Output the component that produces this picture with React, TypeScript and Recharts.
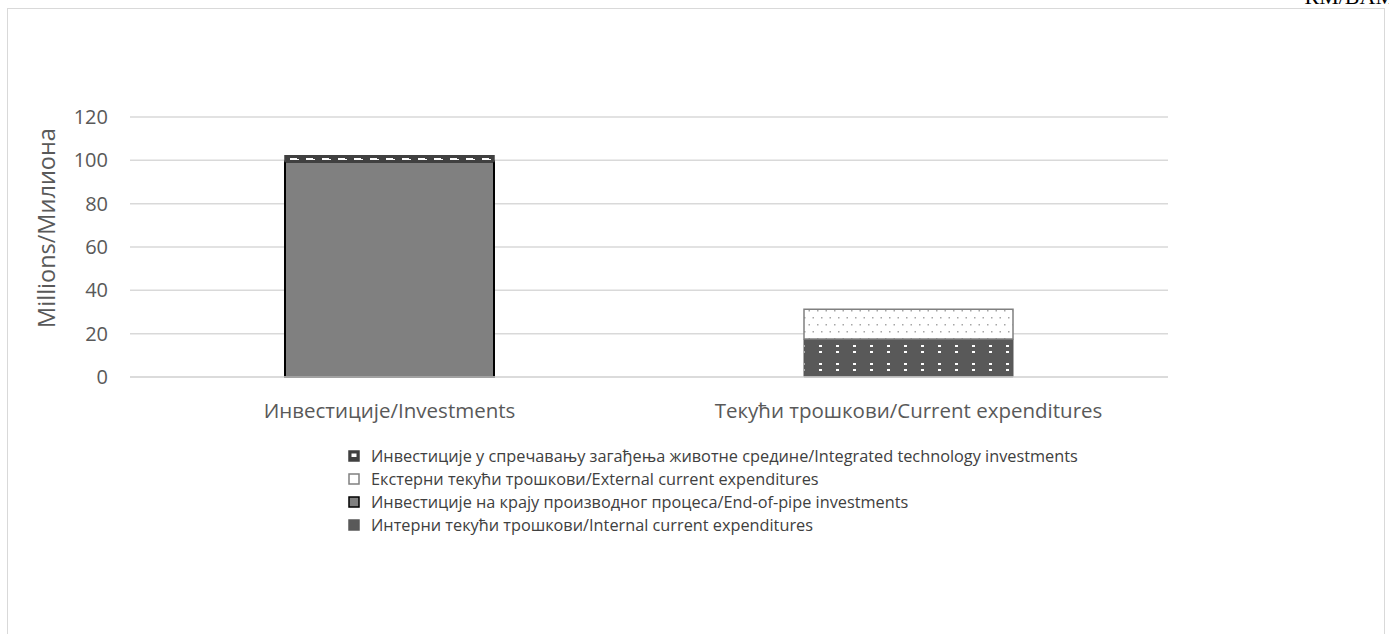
import React from "react";
import { BarChart, Bar, XAxis, YAxis, CartesianGrid, Label } from "recharts";

const categories = ["Инвестиције/Investments", "Текући трошкови/Current expenditures"];
const internalCurrent = [0, 17.5];
const endOfPipe = [99.5, 0];
const externalCurrent = [0, 13.8];
const integratedTech = [2.6, 0];
const yTicks = [0, 20, 40, 60, 80, 100, 120];

const seriesLabels = {
  integrated: "Инвестиције у спречавању загађења животне средине/Integrated technology investments",
  external: "Екстерни текући трошкови/External current expenditures",
  endOfPipe: "Инвестиције на крају производног процеса/End-of-pipe investments",
  internal: "Интерни текући трошкови/Internal current expenditures",
};

const data = categories.map((c, i) => ({
  name: c,
  internal: internalCurrent[i],
  endOfPipe: endOfPipe[i],
  external: externalCurrent[i],
  integrated: integratedTech[i],
}));

const FONT = "'Open Sans', 'Noto Sans', sans-serif";

const Patterns = () => (
  <svg width={0} height={0} style={{ position: "absolute" }}>
    <defs>
      <pattern id="pHatch" width={16} height={6} patternUnits="userSpaceOnUse">
        <rect width={16} height={6} fill="#404040" />
        <rect x={2} y={2} width={7} height={2} fill="#ffffff" />
        <rect x={9} y={3} width={2} height={1} fill="#ffffff" />
      </pattern>
      <pattern id="pDotsLight" width={17} height={14} patternUnits="userSpaceOnUse">
        <rect width={17} height={14} fill="#ffffff" />
        <rect x={1} y={2} width={1.5} height={1.5} fill="#a6a6a6" />
        <rect x={9.5} y={2} width={1.5} height={1.5} fill="#a6a6a6" />
        <rect x={5} y={9} width={1.5} height={1.5} fill="#a6a6a6" />
        <rect x={13.5} y={9} width={1.5} height={1.5} fill="#a6a6a6" />
      </pattern>
      <pattern id="pDotsDark" width={17} height={18} patternUnits="userSpaceOnUse">
        <rect width={17} height={18} fill="#595959" />
        <rect x={3} y={3} width={3} height={2} fill="#ffffff" />
        <rect x={3} y={9} width={3} height={2} fill="#ffffff" />
      </pattern>
    </defs>
  </svg>
);

const legendItems = [
  { key: "integrated", fill: "#404040", stroke: "#404040", inner: true },
  { key: "external", fill: "#ffffff", stroke: "#808080", inner: false },
  { key: "endOfPipe", fill: "#808080", stroke: "#000000", inner: false },
  { key: "internal", fill: "#595959", stroke: "#595959", inner: false },
];

export default function App() {
  return (
    <div style={{ position: "absolute", left: 0, top: 0, width: 1389, height: 634, overflow: "hidden", background: "#fff" }}>
      <Patterns />
      <div
        style={{
          position: "absolute",
          left: 7,
          top: 8,
          width: 1378,
          height: 660,
          border: "1px solid #d9d9d9",
          boxSizing: "border-box",
        }}
      />
      <div
        style={{
          position: "absolute",
          right: -6,
          top: -16,
          fontFamily: "'Liberation Serif', 'DejaVu Serif', serif",
          fontSize: 22,
          lineHeight: "25px",
          color: "#000",
          whiteSpace: "nowrap",
        }}
      >
        КМ/BAM
      </div>
      <div style={{ position: "absolute", left: 0, top: 0 }}>
        <BarChart
          width={1389}
          height={634}
          data={data}
          margin={{ top: 117, right: 221, left: 0, bottom: 227 }}
          barSize={209}
        >
          <CartesianGrid vertical={false} stroke="#d9d9d9" strokeWidth={1.5} />
          <XAxis
            dataKey="name"
            height={30}
            axisLine={{ stroke: "#d9d9d9", strokeWidth: 1.5 }}
            tickLine={false}
            tick={{ fill: "#595959", fontSize: 20.5, fontFamily: FONT }}
            tickMargin={20}
            interval={0}
          />
          <YAxis
            width={130}
            domain={[0, 120]}
            ticks={yTicks}
            axisLine={false}
            tickLine={false}
            tickSize={0}
            tickMargin={22}
            tick={{ fill: "#595959", fontSize: 20, fontFamily: FONT }}
          >
            <Label
              value="Millions/Милиона"
              angle={-90}
              position="insideLeft"
              offset={0}
              dx={47}
              dy={-19}
              style={{ fill: "#595959", fontSize: 23.5, fontFamily: FONT, textAnchor: "middle" }}
            />
          </YAxis>
          <Bar dataKey="internal" stackId="a" fill="url(#pDotsDark)" stroke="#595959" strokeWidth={1} isAnimationActive={false} />
          <Bar dataKey="endOfPipe" stackId="a" fill="#808080" stroke="#000000" strokeWidth={2} isAnimationActive={false} />
          <Bar dataKey="external" stackId="a" fill="url(#pDotsLight)" stroke="#808080" strokeWidth={1.5} isAnimationActive={false} />
          <Bar dataKey="integrated" stackId="a" fill="url(#pHatch)" stroke="#404040" strokeWidth={1.5} isAnimationActive={false} />
        </BarChart>
      </div>
      <div style={{ position: "absolute", left: 348, top: 444, fontFamily: FONT, fontSize: 16.3, color: "#404040" }}>
        {legendItems.map((it) => (
          <div key={it.key} style={{ display: "flex", alignItems: "center", height: 23, whiteSpace: "nowrap" }}>
            <svg width={12} height={12} style={{ marginRight: 11 }}>
              <rect x={1} y={1} width={10} height={10} fill={it.fill} stroke={it.stroke} strokeWidth={1.5} />
              {it.inner ? <rect x={3.5} y={3.5} width={5} height={3.5} fill="#ffffff" /> : null}
            </svg>
            <span>{seriesLabels[it.key as keyof typeof seriesLabels]}</span>
          </div>
        ))}
      </div>
    </div>
  );
}
